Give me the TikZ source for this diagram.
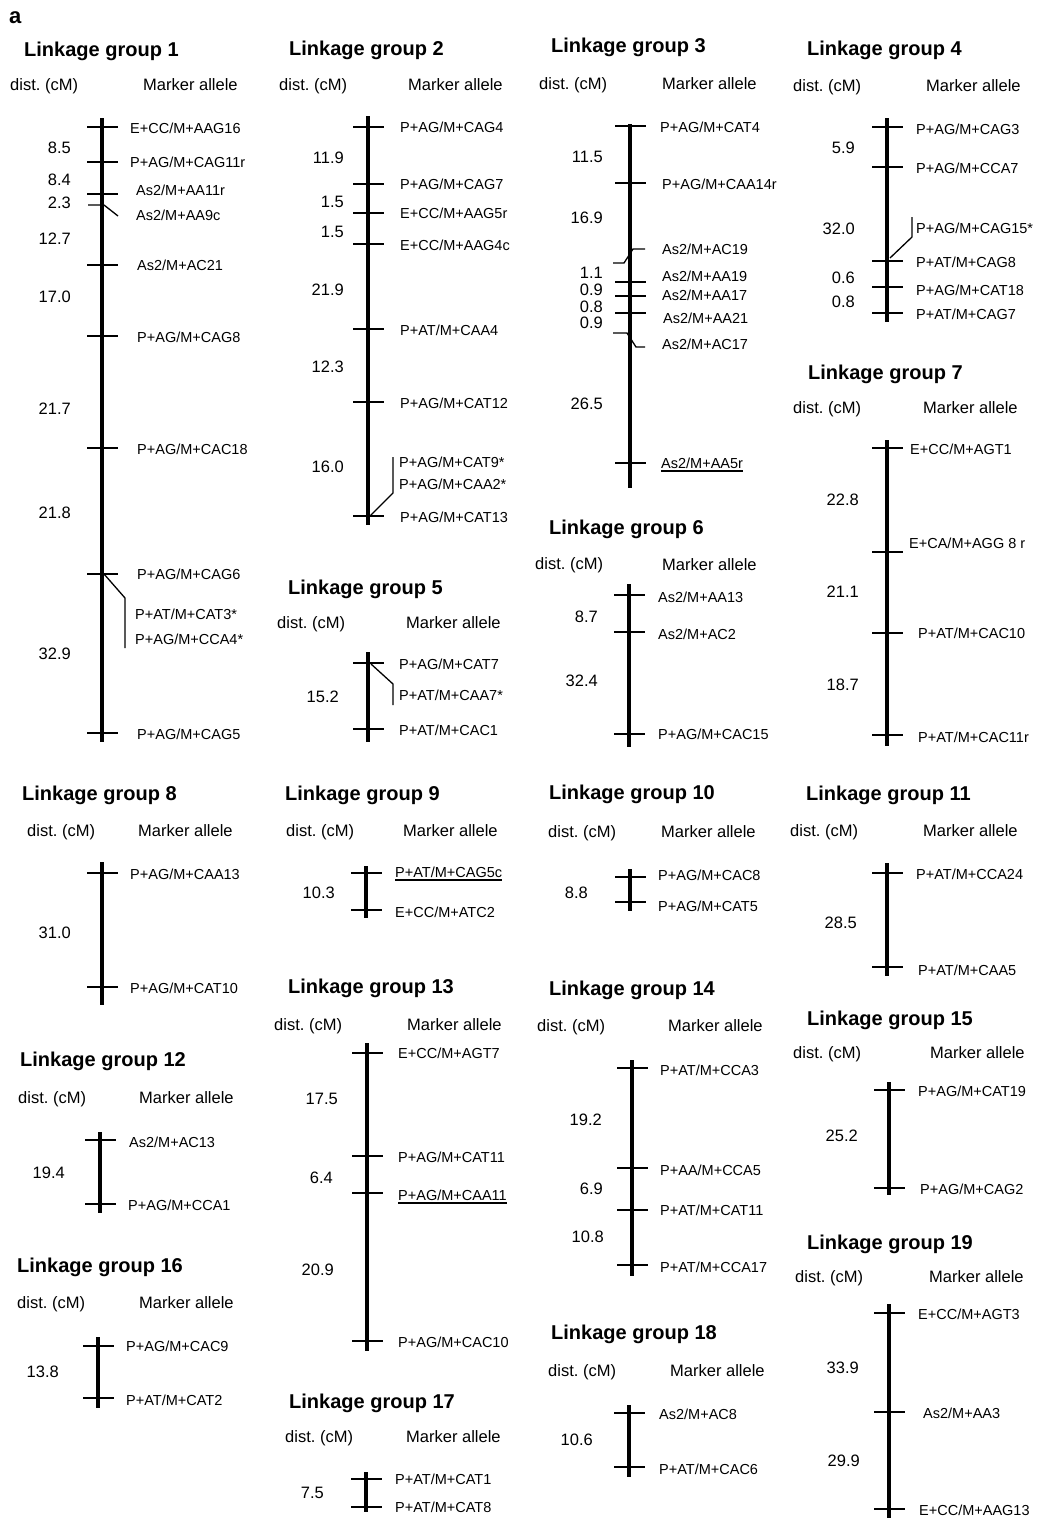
\documentclass[tikz,border=0pt]{standalone}
\usepackage{fontspec}
\setmainfont{Liberation Sans}
\frenchspacing
\newcommand\tks[2]{\foreach \ty in {#2}{\draw[tk] (#1-15,\ty) -- (#1+16,\ty);}}
\newcommand\grp[7]{%
  \node[ttl] (t#1) at (#2,#3) {Linkage group #1};
  \node[hdr] (d#1) at (#4,#5) {dist. (cM)};
  \node[hdr] (a#1) at (#6,#7) {Marker allele};}
\newcommand\ulin[1]{\draw[line width=1.2pt] ([yshift=-2.5pt]#1.south west) -- ([yshift=-2.5pt]#1.south east);}
\begin{document}
\begin{tikzpicture}[x=1pt,y=-1pt,
 chr/.style={line width=4.5pt},
 tk/.style={line width=1.3pt},
 mk/.style={font=\fontsize{14.5}{17}\selectfont,anchor=west,inner sep=0pt,text height=10.4pt,text depth=0pt},
 dst/.style={font=\fontsize{16.5}{19}\selectfont,anchor=east,inner sep=0pt,text height=11.9pt,text depth=0pt},
 hdr/.style={font=\fontsize{16.5}{19}\selectfont,anchor=west,inner sep=0pt,text height=11.9pt,text depth=0pt},
 ttl/.style={font=\bfseries\fontsize{20}{24}\selectfont,anchor=west,inner sep=0pt,text height=14.3pt,text depth=0pt}]
\useasboundingbox[fill=white] (0,0) rectangle (1037,1518);

\node[font=\bfseries\fontsize{22}{26}\selectfont,anchor=base west,inner sep=0pt] (lbl) at (9,23) {a};

% ---------- LG1
\grp{1}{24}{49}{10}{85}{143}{85}
\draw[chr] (102,118) -- (102,742);
\tks{102}{127,162,194,265,336,448,574,733}
\draw[tk] (88,205) -- (104,205) -- (118,216);
\draw[tk] (104,574) -- (125,598) -- (125,648);
\node[mk] (g1m1) at (130,128) {E+CC/M+AAG16};
\node[mk] (g1m2) at (130,162) {P+AG/M+CAG11r};
\node[mk] (g1m3) at (136,190) {As2/M+AA11r};
\node[mk] (g1m4) at (136,215) {As2/M+AA9c};
\node[mk] (g1m5) at (137,265) {As2/M+AC21};
\node[mk] (g1m6) at (137,337) {P+AG/M+CAG8};
\node[mk] (g1m7) at (137,449) {P+AG/M+CAC18};
\node[mk] (g1m8) at (137,574) {P+AG/M+CAG6};
\node[mk] (g1m9) at (135,614) {P+AT/M+CAT3*};
\node[mk] (g1m10) at (135,639) {P+AG/M+CCA4*};
\node[mk] (g1m11) at (137,734) {P+AG/M+CAG5};
\node[dst] (g1d1) at (71,148) {8.5};
\node[dst] (g1d2) at (71,180) {8.4};
\node[dst] (g1d3) at (71,203) {2.3};
\node[dst] (g1d4) at (71,239) {12.7};
\node[dst] (g1d5) at (71,297) {17.0};
\node[dst] (g1d6) at (71,409) {21.7};
\node[dst] (g1d7) at (71,513) {21.8};
\node[dst] (g1d8) at (71,654) {32.9};

% ---------- LG2
\grp{2}{289}{48}{279}{85}{408}{85}
\draw[chr] (368,116) -- (368,525);
\tks{368}{127,184,213,244,329,402,516}
\draw[tk] (370,516) -- (393,493) -- (393,457);
\node[mk] (g2m1) at (400,127) {P+AG/M+CAG4};
\node[mk] (g2m2) at (400,184) {P+AG/M+CAG7};
\node[mk] (g2m3) at (400,213) {E+CC/M+AAG5r};
\node[mk] (g2m4) at (400,245) {E+CC/M+AAG4c};
\node[mk] (g2m5) at (400,330) {P+AT/M+CAA4};
\node[mk] (g2m6) at (400,403) {P+AG/M+CAT12};
\node[mk] (g2m7) at (399,462) {P+AG/M+CAT9*};
\node[mk] (g2m8) at (399,484) {P+AG/M+CAA2*};
\node[mk] (g2m9) at (400,517) {P+AG/M+CAT13};
\node[dst] (g2d1) at (344,158) {11.9};
\node[dst] (g2d2) at (344,202) {1.5};
\node[dst] (g2d3) at (344,232) {1.5};
\node[dst] (g2d4) at (344,290) {21.9};
\node[dst] (g2d5) at (344,367) {12.3};
\node[dst] (g2d6) at (344,467) {16.0};

% ---------- LG3
\grp{3}{551}{45}{539}{84}{662}{84}
\draw[chr] (630,124) -- (630,488);
\tks{630}{126,183,282,296,313,463}
\draw[tk] (613,263) -- (624,263) -- (633,249) -- (645,249);
\draw[tk] (613,333) -- (627,333) -- (636,347) -- (645,347);
\node[mk] (g3m1) at (660,127) {P+AG/M+CAT4};
\node[mk] (g3m2) at (662,184) {P+AG/M+CAA14r};
\node[mk] (g3m3) at (662,249) {As2/M+AC19};
\node[mk] (g3m4) at (662,276) {As2/M+AA19};
\node[mk] (g3m5) at (662,295) {As2/M+AA17};
\node[mk] (g3m6) at (663,318) {As2/M+AA21};
\node[mk] (g3m7) at (662,344) {As2/M+AC17};
\node[mk] (g3m8) at (661,463) {As2/M+AA5r};
\ulin{g3m8}
\node[dst] (g3d1) at (603,157) {11.5};
\node[dst] (g3d2) at (603,218) {16.9};
\node[dst] (g3d3) at (603,273) {1.1};
\node[dst] (g3d4) at (603,290) {0.9};
\node[dst] (g3d5) at (603,307) {0.8};
\node[dst] (g3d6) at (603,323) {0.9};
\node[dst] (g3d7) at (603,404) {26.5};

% ---------- LG4
\grp{4}{807}{48}{793}{86}{926}{86}
\draw[chr] (887,118) -- (887,322);
\tks{887}{127,167,261,287,313}
\draw[tk] (890,258) -- (912,237) -- (912,217);
\node[mk] (g4m1) at (916,129) {P+AG/M+CAG3};
\node[mk] (g4m2) at (916,168) {P+AG/M+CCA7};
\node[mk] (g4m3) at (916,228) {P+AG/M+CAG15*};
\node[mk] (g4m4) at (916,262) {P+AT/M+CAG8};
\node[mk] (g4m5) at (916,290) {P+AG/M+CAT18};
\node[mk] (g4m6) at (916,314) {P+AT/M+CAG7};
\node[dst] (g4d1) at (855,148) {5.9};
\node[dst] (g4d2) at (855,229) {32.0};
\node[dst] (g4d3) at (855,278) {0.6};
\node[dst] (g4d4) at (855,302) {0.8};

% ---------- LG5
\grp{5}{288}{587}{277}{623}{406}{623}
\draw[chr] (368,652) -- (368,742);
\tks{368}{663,729}
\draw[tk] (371,664) -- (393,684) -- (393,705);
\node[mk] (g5m1) at (399,664) {P+AG/M+CAT7};
\node[mk] (g5m2) at (399,695) {P+AT/M+CAA7*};
\node[mk] (g5m3) at (399,730) {P+AT/M+CAC1};
\node[dst] (g5d1) at (339,697) {15.2};

% ---------- LG6
\grp{6}{549}{527}{535}{564}{662}{565}
\draw[chr] (629,584) -- (629,747);
\tks{629}{595,632,734}
\node[mk] (g6m1) at (658,597) {As2/M+AA13};
\node[mk] (g6m2) at (658,634) {As2/M+AC2};
\node[mk] (g6m3) at (658,734) {P+AG/M+CAC15};
\node[dst] (g6d1) at (598,617) {8.7};
\node[dst] (g6d2) at (598,681) {32.4};

% ---------- LG7
\grp{7}{808}{372}{793}{408}{923}{408}
\draw[chr] (887,440) -- (887,746);
\tks{887}{448,552,633,735}
\node[mk] (g7m1) at (910,449) {E+CC/M+AGT1};
\node[mk] (g7m2) at (909,543) {E+CA/M+AGG 8 r};
\node[mk] (g7m3) at (918,633) {P+AT/M+CAC10};
\node[mk] (g7m4) at (918,737) {P+AT/M+CAC11r};
\node[dst] (g7d1) at (859,500) {22.8};
\node[dst] (g7d2) at (859,592) {21.1};
\node[dst] (g7d3) at (859,685) {18.7};

% ---------- LG8
\grp{8}{22}{793}{27}{831}{138}{831}
\draw[chr] (102,862) -- (102,1005);
\tks{102}{873,987}
\node[mk] (g8m1) at (130,874) {P+AG/M+CAA13};
\node[mk] (g8m2) at (130,988) {P+AG/M+CAT10};
\node[dst] (g8d1) at (71,933) {31.0};

% ---------- LG9
\grp{9}{285}{793}{286}{831}{403}{831}
\draw[chr] (366,866) -- (366,918);
\tks{366}{873,910}
\node[mk] (g9m1) at (395,872) {P+AT/M+CAG5c};
\ulin{g9m1}
\node[mk] (g9m2) at (395,912) {E+CC/M+ATC2};
\node[dst] (g9d1) at (335,893) {10.3};

% ---------- LG10
\grp{10}{549}{792}{548}{832}{661}{832}
\draw[chr] (630,869) -- (630,911);
\tks{630}{877,902}
\node[mk] (g10m1) at (658,875) {P+AG/M+CAC8};
\node[mk] (g10m2) at (658,906) {P+AG/M+CAT5};
\node[dst] (g10d1) at (588,893) {8.8};

% ---------- LG11
\grp{11}{806}{793}{790}{831}{923}{831}
\draw[chr] (887,863) -- (887,976);
\tks{887}{873,967}
\node[mk] (g11m1) at (916,874) {P+AT/M+CCA24};
\node[mk] (g11m2) at (918,970) {P+AT/M+CAA5};
\node[dst] (g11d1) at (857,923) {28.5};

% ---------- LG12
\grp{12}{20}{1059}{18}{1098}{139}{1098}
\draw[chr] (100,1132) -- (100,1213);
\tks{100}{1140,1204}
\node[mk] (g12m1) at (129,1142) {As2/M+AC13};
\node[mk] (g12m2) at (128,1205) {P+AG/M+CCA1};
\node[dst] (g12d1) at (65,1173) {19.4};

% ---------- LG13
\grp{13}{288}{986}{274}{1025}{407}{1025}
\draw[chr] (367,1043) -- (367,1351);
\tks{367}{1053,1156,1193,1341}
\node[mk] (g13m1) at (398,1053) {E+CC/M+AGT7};
\node[mk] (g13m2) at (398,1157) {P+AG/M+CAT11};
\node[mk] (g13m3) at (398,1195) {P+AG/M+CAA11};
\ulin{g13m3}
\node[mk] (g13m4) at (398,1342) {P+AG/M+CAC10};
\node[dst] (g13d1) at (338,1099) {17.5};
\node[dst] (g13d2) at (333,1178) {6.4};
\node[dst] (g13d3) at (334,1270) {20.9};

% ---------- LG14
\grp{14}{549}{988}{537}{1026}{668}{1026}
\draw[chr] (632,1060) -- (632,1276);
\tks{632}{1068,1168,1210,1265}
\node[mk] (g14m1) at (660,1070) {P+AT/M+CCA3};
\node[mk] (g14m2) at (660,1170) {P+AA/M+CCA5};
\node[mk] (g14m3) at (660,1210) {P+AT/M+CAT11};
\node[mk] (g14m4) at (660,1267) {P+AT/M+CCA17};
\node[dst] (g14d1) at (602,1120) {19.2};
\node[dst] (g14d2) at (603,1189) {6.9};
\node[dst] (g14d3) at (604,1237) {10.8};

% ---------- LG15
\grp{15}{807}{1018}{793}{1053}{930}{1053}
\draw[chr] (889,1082) -- (889,1195);
\tks{889}{1090,1188}
\node[mk] (g15m1) at (918,1091) {P+AG/M+CAT19};
\node[mk] (g15m2) at (920,1189) {P+AG/M+CAG2};
\node[dst] (g15d1) at (858,1136) {25.2};

% ---------- LG16
\grp{16}{17}{1265}{17}{1303}{139}{1303}
\draw[chr] (98,1337) -- (98,1408);
\tks{98}{1346,1398}
\node[mk] (g16m1) at (126,1346) {P+AG/M+CAC9};
\node[mk] (g16m2) at (126,1400) {P+AT/M+CAT2};
\node[dst] (g16d1) at (59,1372) {13.8};

% ---------- LG17
\grp{17}{289}{1401}{285}{1437}{406}{1437}
\draw[chr] (366,1472) -- (366,1512);
\tks{366}{1479,1507}
\node[mk] (g17m1) at (395,1479) {P+AT/M+CAT1};
\node[mk] (g17m2) at (395,1507) {P+AT/M+CAT8};
\node[dst] (g17d1) at (324,1493) {7.5};

% ---------- LG18
\grp{18}{551}{1332}{548}{1371}{670}{1371}
\draw[chr] (629,1405) -- (629,1477);
\tks{629}{1413,1467}
\node[mk] (g18m1) at (659,1414) {As2/M+AC8};
\node[mk] (g18m2) at (659,1469) {P+AT/M+CAC6};
\node[dst] (g18d1) at (593,1440) {10.6};

% ---------- LG19
\grp{19}{807}{1242}{795}{1277}{929}{1277}
\draw[chr] (889,1304) -- (889,1518);
\tks{889}{1313,1412,1509}
\node[mk] (g19m1) at (918,1314) {E+CC/M+AGT3};
\node[mk] (g19m2) at (923,1413) {As2/M+AA3};
\node[mk] (g19m3) at (919,1510) {E+CC/M+AAG13};
\node[dst] (g19d1) at (859,1368) {33.9};
\node[dst] (g19d2) at (860,1461) {29.9};
\end{tikzpicture}
\end{document}
